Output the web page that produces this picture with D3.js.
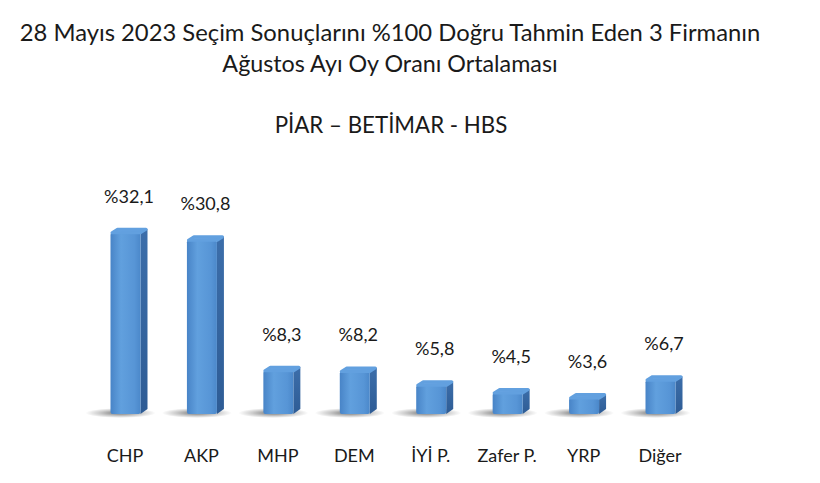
<!DOCTYPE html>
<html>
<head>
<meta charset="utf-8">
<script src="https://cdn.jsdelivr.net/npm/d3@7"></script>
<style>
  body { margin: 0; background: #fff; }
  text { font-family: Lato, "Noto Sans", sans-serif; fill: #1a1a1a; }
</style>
</head>
<body>
<div id="chart"></div>
<script>
// data
const parties = ["CHP", "AKP", "MHP", "DEM", "İYİ P.", "Zafer P.", "YRP", "Diğer"];
const shares = [32.1, 30.8, 8.3, 8.2, 5.8, 4.5, 3.6, 6.7];
const titleLines = ["28 Mayıs 2023 Seçim Sonuçlarını %100 Doğru Tahmin Eden 3 Firmanın",
                    "Ağustos Ayı Oy Oranı Ortalaması"];
const subtitle = "PİAR – BETİMAR - HBS";

const width = 820, height = 483;
const base = 414;           // floor of the bars
const faceW = 30, depthX = 7, depthY = 5;

const svg = d3.select("#chart")
  .append("svg")
    .attr("width", width)
    .attr("height", height);

svg.append("rect").attr("width", width).attr("height", height).attr("fill", "#fff");

const defs = svg.append("defs");

function linGrad(id, x2, y2, stops) {
  const g = defs.append("linearGradient").attr("id", id)
    .attr("x1", 0).attr("y1", 0).attr("x2", x2).attr("y2", y2);
  stops.forEach(s => g.append("stop").attr("offset", s[0]).attr("stop-color", s[1]));
}
linGrad("front", 1, 0, [[0, "#4884c7"], [0.35, "#61a0de"], [0.8, "#5795d6"], [1, "#4b88ca"]]);
linGrad("side", 0, 1, [[0, "#3c6eaa"], [1, "#2e5c95"]]);
linGrad("top", 1, 1, [[0, "#74aeea"], [1, "#5896d6"]]);

const shadow = defs.append("radialGradient").attr("id", "shadow");
shadow.append("stop").attr("offset", 0).attr("stop-color", "#000").attr("stop-opacity", 0.55);
shadow.append("stop").attr("offset", 0.6).attr("stop-color", "#000").attr("stop-opacity", 0.2);
shadow.append("stop").attr("offset", 1).attr("stop-color", "#000").attr("stop-opacity", 0);

const x = d3.scalePoint()
  .domain(parties)
  .range([129, 664]);

const y = d3.scaleLinear()
  .domain([0, 35])
  .range([base, base - 35 * 5.8]);

const fmt = v => "%" + d3.format(".1f")(v).replace(".", ",");

const data = parties.map((p, i) => ({party: p, value: shares[i]}));

// titles
svg.selectAll(".title")
  .data(titleLines)
  .join("text")
    .attr("class", "title")
    .attr("x", 390)
    .attr("y", (d, i) => 41 + i * 31)
    .attr("text-anchor", "middle")
    .style("font-size", (d, i) => i === 0 ? "23.8px" : "23.3px")
    .text(d => d);

svg.append("text")
  .attr("x", 391)
  .attr("y", 133)
  .attr("text-anchor", "middle")
  .style("font-size", "22.3px")
  .text(subtitle);

const bars = svg.append("g")
  .selectAll("g")
  .data(data)
  .join("g")
    .attr("transform", d => `translate(${x(d.party) - (faceW + depthX) / 2}, 0)`);

// floor shadow
bars.append("ellipse")
  .attr("cx", 10)
  .attr("cy", base - 1)
  .attr("rx", 35)
  .attr("ry", 5)
  .attr("fill", "url(#shadow)");

// side face
bars.append("path")
  .attr("fill", "url(#side)")
  .attr("d", d => {
    const t = y(d.value);
    return `M${faceW},${t + depthY} L${faceW + depthX},${t + 1} L${faceW + depthX},${base - depthY} L${faceW},${base} Z`;
  });

// front face
bars.append("rect")
  .attr("x", 0)
  .attr("y", d => y(d.value) + depthY)
  .attr("width", faceW)
  .attr("height", d => base - y(d.value) - depthY)
  .attr("rx", 2)
  .attr("fill", "url(#front)");

// top face, rounded
bars.append("path")
  .attr("fill", "url(#top)")
  .attr("stroke", "#62a0df")
  .attr("stroke-width", 3)
  .attr("stroke-linejoin", "round")
  .attr("d", d => {
    const t = y(d.value);
    return `M1.5,${t + depthY} L${depthX},${t + 1.5} L${faceW + depthX - 1.5},${t + 1.5} L${faceW},${t + depthY} Z`;
  });

// value labels
svg.append("g")
  .selectAll("text")
  .data(data)
  .join("text")
    .attr("x", d => x(d.party))
    .attr("y", d => y(d.value) - 25)
    .attr("text-anchor", "middle")
    .style("font-size", "18px")
    .text(d => fmt(d.value));

// category labels
svg.append("g")
  .selectAll("text")
  .data(data)
  .join("text")
    .attr("x", d => x(d.party) - 4)
    .attr("y", 462)
    .attr("text-anchor", "middle")
    .style("font-size", "18px")
    .text(d => d.party);
</script>
</body>
</html>
